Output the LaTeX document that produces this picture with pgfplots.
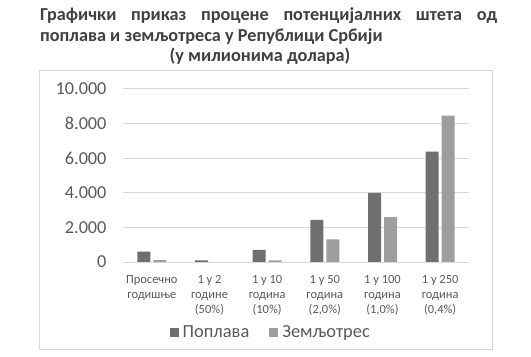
\documentclass[border=0pt]{standalone}
\usepackage{pgfplots}
\pgfplotsset{compat=1.18}
\usepackage{fontspec}
\setmainfont{Carlito}
\definecolor{dark}{HTML}{6F6F6F}
\definecolor{light}{HTML}{9E9E9E}
\definecolor{gridc}{HTML}{D9D9D9}
\definecolor{txt}{HTML}{595959}
\definecolor{ttl}{HTML}{404040}
\begin{document}
\begin{tikzpicture}
\path[use as bounding box] (0bp,0bp) rectangle (531bp,357bp);
\draw[gridc, line width=1bp] (39bp,286bp) rectangle (492bp,7bp);
\begin{scope}[every node/.style={inner sep=0, font=\fontsize{18.3}{21}\selectfont\bfseries, text=ttl}]
\node[anchor=base west] at (40bp,336bp) {\hbox to 457bp{Графички\hfill приказ\hfill процене\hfill потенцијалних\hfill штета\hfill од}};
\node[anchor=base west] at (40bp,315bp) {поплава и земљотреса у Републици Србији};
\node[anchor=base] at (260bp,295bp) {(у милионима долара)};
\end{scope}
\begin{axis}[at={(123bp,95bp)}, anchor=south west, scale only axis,
  width=346bp, height=173bp,
  ymin=0, ymax=10000, xmin=-0.5, xmax=5.5,
  ybar, bar width=13bp,
  ytick={0,2000,4000,6000,8000,10000},
  scaled y ticks=false,
  xtick={0,1,2,3,4,5},
  xticklabels={{Просечно\\годишње},{1 у 2\\године\\(50\%)},{1 у 10\\година\\(10\%)},{1 у 50\\година\\(2,0\%)},{1 у 100\\година\\(1,0\%)},{1 у 250\\година\\(0,4\%)}},
  xticklabel style={align=center, font=\fontsize{12.5}{15}\selectfont, text=txt, yshift=-10bp},
  yticklabel style={font=\fontsize{18.3}{20}\selectfont, text=txt, xshift=-13bp},
  /pgf/number format/.cd, 1000 sep={.}, assume math mode=true, /pgfplots/.cd,
  ymajorgrids, grid style={gridc, line width=1bp},
  axis line style={draw=none}, major tick length=0,
  legend style={at={(0.427,-0.405)}, anchor=center, draw=none, fill=none, legend columns=2,
    font=\fontsize{18.5}{20}\selectfont, text=txt, inner sep=0pt,
    /tikz/every odd column/.append style={column sep=2bp},
    /tikz/every even column/.append style={column sep=18bp}},
  legend image code/.code={\fill[#1] (0bp,-4.5bp) rectangle (9bp,4.5bp);},
]
\addplot[fill=dark, draw=none, bar shift=-8bp] coordinates {(0,600) (1,100) (2,700) (3,2430) (4,4000) (5,6380)};
\addplot[fill=light, draw=none, bar shift=8bp] coordinates {(0,115) (1,0) (2,100) (3,1310) (4,2600) (5,8460)};
\legend{Поплава, Земљотрес}
\end{axis}
\end{tikzpicture}
\end{document}
